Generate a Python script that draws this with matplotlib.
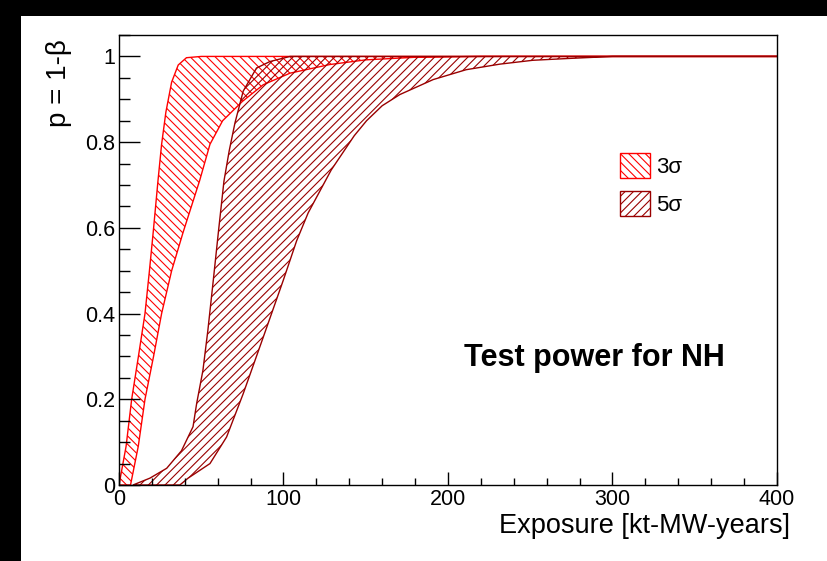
import matplotlib
matplotlib.use("Agg")
import matplotlib.pyplot as plt
from matplotlib.patches import Rectangle, Patch
from matplotlib.ticker import MultipleLocator, FuncFormatter

plt.rcParams["font.family"] = ["Liberation Sans", "DejaVu Sans"]
plt.rcParams["hatch.linewidth"] = 0.8

# Test power bands: each band is bounded by an upper-power curve (left edge)
# and a lower-power curve (right edge), exposure in kt-MW-years.
s3_hi_x = [0, 4.3, 7.7, 11.8, 15.8, 18.5, 20.8, 23.7, 25.9, 28.5, 32, 36, 41, 50, 400]
s3_hi_p = [0, 0.09, 0.20, 0.30, 0.40, 0.50, 0.59, 0.71, 0.795, 0.87, 0.94, 0.98, 0.997, 1.0, 1.0]
s3_lo_x = [7, 11.7, 15.8, 21, 25.9, 32, 39, 49, 55.3, 63, 75, 87.7, 104, 128, 150, 180, 220, 400]
s3_lo_p = [0, 0.09, 0.20, 0.30, 0.40, 0.50, 0.59, 0.71, 0.795, 0.85, 0.895, 0.934, 0.961, 0.981, 0.992, 0.998, 1.0, 1.0]

s5_hi_x = [8.5, 18.8, 29, 38, 45, 47.2, 51, 54, 57.3, 60.5, 63.8, 67, 70.5, 75.5, 83.6, 91.7, 104, 400]
s5_hi_p = [0, 0.016, 0.039, 0.08, 0.136, 0.19, 0.267, 0.36, 0.477, 0.593, 0.709, 0.78, 0.845, 0.919, 0.973, 0.988, 1.0, 1.0]
s5_lo_x = [37, 42, 55.3, 65.4, 75.5, 87.7, 99.8, 108, 115, 122, 129, 136, 143, 150.5, 160, 170.7, 191, 211, 231.5, 251.5, 272, 300, 400]
s5_lo_p = [0, 0.016, 0.05, 0.112, 0.213, 0.345, 0.477, 0.57, 0.635, 0.685, 0.735, 0.775, 0.815, 0.85, 0.885, 0.911, 0.946, 0.969, 0.982, 0.991, 0.995, 1.0, 1.0]

labels = ["3\u03c3", "5\u03c3"]
colors = ["#ff0000", "#990000"]
hatches = ["\\\\\\\\", "////"]

fig = plt.figure(figsize=(8.28, 5.61), dpi=100)
fig.patch.set_facecolor("white")
# dark border strips along the top and left edges
fig.patches.append(Rectangle((0, 1 - 16 / 561), 1, 16 / 561, transform=fig.transFigure,
                             facecolor="black", edgecolor="none", zorder=0))
fig.patches.append(Rectangle((0, 0), 21 / 828, 1, transform=fig.transFigure,
                             facecolor="black", edgecolor="none", zorder=0))

ax = fig.add_axes([119 / 828, 76 / 561, 658 / 828, 450 / 561])

bands = [(s3_hi_x, s3_hi_p, s3_lo_x, s3_lo_p), (s5_hi_x, s5_hi_p, s5_lo_x, s5_lo_p)]
for (hx, hp, lx, lp), c, h in zip(bands, colors, hatches):
    ax.fill(hx + lx[::-1], hp + lp[::-1], facecolor="none", edgecolor=c,
            hatch=h, lw=1.0)

ax.set_xlim(0, 400)
ax.set_ylim(0, 1.05)

ax.xaxis.set_major_locator(MultipleLocator(100))
ax.xaxis.set_minor_locator(MultipleLocator(20))
ax.yaxis.set_major_locator(MultipleLocator(0.2))
ax.yaxis.set_minor_locator(MultipleLocator(0.05))
ax.yaxis.set_major_formatter(FuncFormatter(lambda v, _: "%g" % round(v, 2)))

ax.tick_params(which="both", direction="in", top=False, right=False,
               width=1.0, labelsize=15.5, colors="black")
ax.tick_params(axis="y", which="major", length=15, pad=3)
ax.tick_params(axis="y", which="minor", length=8)
ax.tick_params(axis="x", which="major", length=9.5, pad=3)
ax.tick_params(axis="x", which="minor", length=5)
for sp in ax.spines.values():
    sp.set_linewidth(1.0)

ax.set_xlabel("Exposure [kt-MW-years]", loc="right", fontsize=19.5)
ax.xaxis.set_label_coords(1.02, -0.062)
ax.set_ylabel("p = 1-\u03b2", loc="top", fontsize=20)
ax.yaxis.set_label_coords(-0.072, 0.99)

ax.text(0.7226, 0.265, "Test power for NH", transform=ax.transAxes,
        ha="center", va="baseline", fontsize=22, fontweight="bold")

handles = [Patch(facecolor="none", edgecolor=c, hatch=h, lw=1.0)
           for c, h in zip(colors, hatches)]
ax.legend(handles, labels, loc="upper left", bbox_to_anchor=(0.7614, 0.738),
          frameon=False, fontsize=16, handlelength=1.36, handleheight=1.36,
          handletextpad=0.25, labelspacing=0.6, borderpad=0, borderaxespad=0)

fig.savefig("out.png", dpi=100, facecolor="white")
